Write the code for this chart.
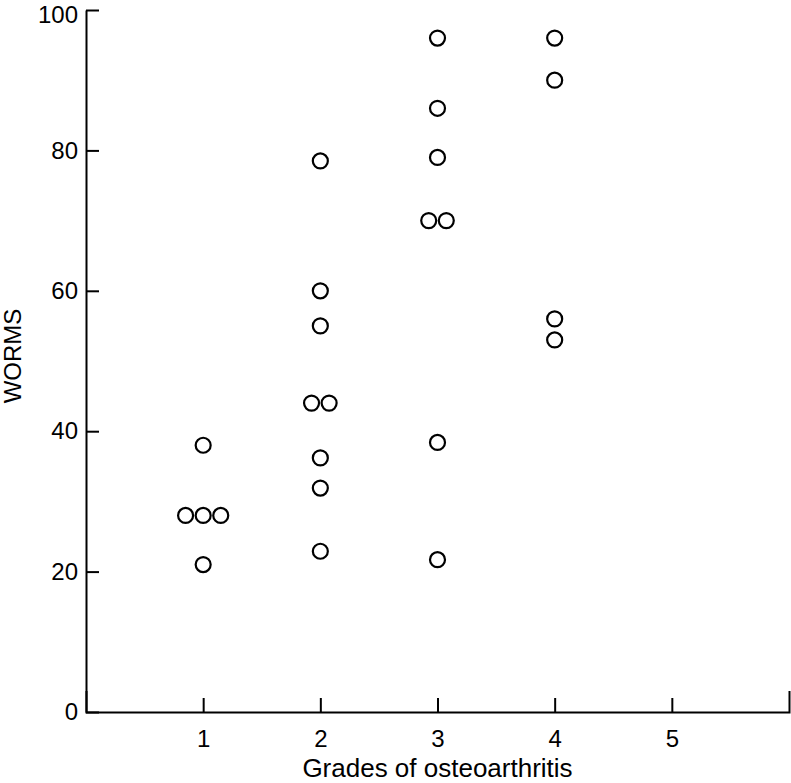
<!DOCTYPE html>
<html>
<head>
<meta charset="utf-8">
<script src="https://cdn.jsdelivr.net/npm/d3@7"></script>
<style>
  body { margin: 0; background: #fff; }
  text { font-family: "Liberation Sans", Arial, Helvetica, sans-serif; }
</style>
</head>
<body>
<div id="chart"></div>
<script>
// WORMS score per osteoarthritis grade
var grades = [1, 2, 3, 4];
var grade1 = [38, 28, 28, 28, 21];
var grade2 = [78.5, 60, 55, 44, 44, 36.2, 31.9, 22.9];
var grade3 = [96, 86, 79, 70, 70, 38.4, 21.7];
var grade4 = [96, 90, 56, 53];
var xTicks = [1, 2, 3, 4, 5];
var yTicks = [0, 20, 40, 60, 80, 100];

var width = 791,
  height = 783;

var margin = { left: 86, right: 2, top: 10, bottom: 71 };

var svg = d3
  .select("#chart")
  .append("svg")
  .attr("width", width)
  .attr("height", height);

var xscale = d3
  .scaleLinear()
  .domain([0, 6])
  .range([margin.left, width - margin.right]);

var yscale = d3
  .scaleLinear()
  .domain([0, 100])
  .range([height - margin.bottom, margin.top]);

// flatten, spreading equal values side by side
var points = [];
[grade1, grade2, grade3, grade4].forEach((vals, gi) => {
  var counts = d3.rollup(vals, (v) => v.length, (v) => v);
  var seen = new Map();
  vals.forEach((v) => {
    var n = counts.get(v);
    var k = seen.get(v) || 0;
    seen.set(v, k + 1);
    points.push({ grade: grades[gi], value: v, dx: (k - (n - 1) / 2) * 0.15 });
  });
});

var x_axis = d3
  .axisBottom(xscale)
  .tickValues(xTicks)
  .tickFormat(d3.format("d"))
  .tickSizeInner(-14)
  .tickSizeOuter(-21)
  .tickPadding(18);

var y_axis = d3
  .axisLeft(yscale)
  .tickValues(yTicks)
  .tickFormat(d3.format("d"))
  .tickSizeInner(-13)
  .tickSizeOuter(0)
  .tickPadding(8);

var gx = svg
  .append("g")
  .attr("transform", "translate(0," + yscale(0) + ")")
  .call(x_axis);

var gy = svg
  .append("g")
  .attr("transform", "translate(" + xscale(0) + ",0)")
  .call(y_axis);

[gx, gy].forEach((g) => {
  g.selectAll("path, line").attr("stroke", "#000").attr("stroke-width", 2);
  g.selectAll("text").attr("fill", "#000").style("font-size", "24px");
});

// top label sits right against the edge; nudge it down a touch
gy.selectAll(".tick text").filter((d) => d === 100).attr("dy", "0.5em");

svg
  .selectAll("circle")
  .data(points)
  .enter()
  .append("circle")
  .attr("cx", (d) => xscale(d.grade + d.dx))
  .attr("cy", (d) => yscale(d.value))
  .attr("r", 7.5)
  .attr("fill", "none")
  .attr("stroke", "#000")
  .attr("stroke-width", 2.2);

svg
  .append("text")
  .attr("x", (xscale(0) + xscale(6)) / 2)
  .attr("y", 777)
  .attr("text-anchor", "middle")
  .style("font-size", "26px")
  .text("Grades of osteoarthritis");

svg
  .append("text")
  .attr("transform", "rotate(-90)")
  .attr("x", -356)
  .attr("y", 21)
  .attr("text-anchor", "middle")
  .style("font-size", "24px")
  .text("WORMS");
</script>
</body>
</html>
